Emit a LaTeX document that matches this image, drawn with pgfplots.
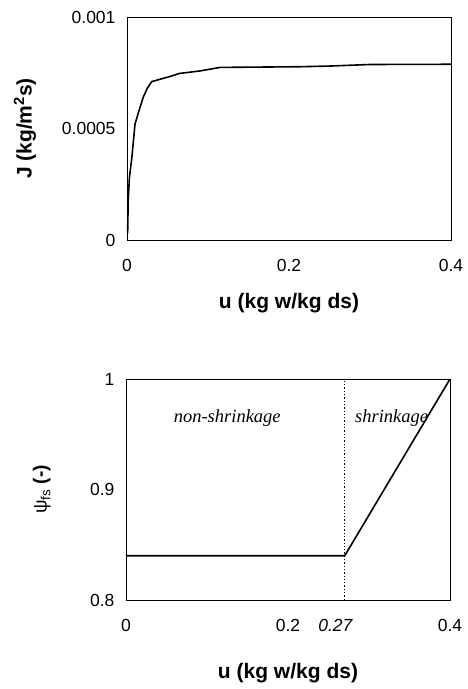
\documentclass[border=0pt]{standalone}
\usepackage{fontspec}
\setmainfont{Liberation Sans}
\newfontfamily\tnr{Liberation Serif}
\usepackage{pgfplots}
\pgfplotsset{compat=1.18}

\pgfplotsset{
  panel/.style={
    scale only axis, width=324pt,
    axis line style={line width=0.8pt},
    major tick length=0pt,
    scaled ticks=false,
    /pgf/number format/assume math mode=true,
    tick label style={font=\fontsize{17.5}{20}\selectfont},
    label style={font=\fontsize{21}{24}\selectfont\bfseries},
    xticklabel style={yshift=-16pt},
    yticklabel style={xshift=-8pt},
    xmin=0, xmax=0.4,
    xtick={0,0.2,0.4}, xticklabels={0,0.2,0.4},
  }
}

\begin{document}
\begin{tikzpicture}
\path[use as bounding box] (0pt,0pt) rectangle (467pt,689pt);

% top: flux
\begin{axis}[panel, at={(127pt,449pt)}, anchor=south west, height=223pt,
  ymin=0, ymax=0.001,
  ytick={0,0.0005,0.001}, yticklabels={0,0.0005,0.001},
  xlabel={u (kg w/kg ds)},
  ylabel={J (kg/m\textsuperscript{2}s)},
  xlabel style={at={(axis description cs:0.5,-0.283)}, anchor=center},
  ylabel style={at={(axis description cs:-0.315,0.5)}, anchor=center},
]
\addplot[black, line width=1.6pt] coordinates {
  (0.0008,0.00003) (0.0015,0.00018) (0.003,0.00028) (0.006,0.00037)
  (0.0099,0.00052) (0.014,0.00057) (0.020,0.00064) (0.025,0.00068)
  (0.0305,0.00071) (0.040,0.00072) (0.050,0.00073) (0.065,0.000747)
  (0.090,0.000758) (0.115,0.000774) (0.150,0.000775) (0.213,0.000777)
  (0.250,0.00078) (0.300,0.000787) (0.400,0.000788)
};
\end{axis}

% bottom: shrinkage coefficient
\begin{axis}[panel, at={(126pt,89pt)}, anchor=south west, height=221pt,
  ymin=0.8, ymax=1,
  ytick={0.8,0.9,1}, yticklabels={0.8,0.9,1},
  extra x ticks={0.27}, extra x tick labels={\textit{0.27}},
  extra x tick style={xticklabel style={xshift=-9pt}},
  xlabel={u (kg w/kg ds)},
  ylabel={\fontsize{19}{22}\selectfont\mdseries ψ\textsubscript{fs} \bfseries(-)},
  xlabel style={at={(axis description cs:0.5,-0.33)}, anchor=center},
  ylabel style={at={(axis description cs:-0.26,0.5)}, anchor=center},
]
\addplot[black, line width=1.6pt] coordinates {
  (0,0.84) (0.27,0.84) (0.4,1)
};
\addplot[black, line width=1.3pt, dotted] coordinates {
  (0.27,0.8) (0.27,1)
};
\node[font=\tnr\itshape\fontsize{18.5}{22}\selectfont] at (axis cs:0.125,0.965) {non-shrinkage};
\node[font=\tnr\itshape\fontsize{18.5}{22}\selectfont] at (axis cs:0.328,0.965) {shrinkage};
\end{axis}
\end{tikzpicture}
\end{document}
